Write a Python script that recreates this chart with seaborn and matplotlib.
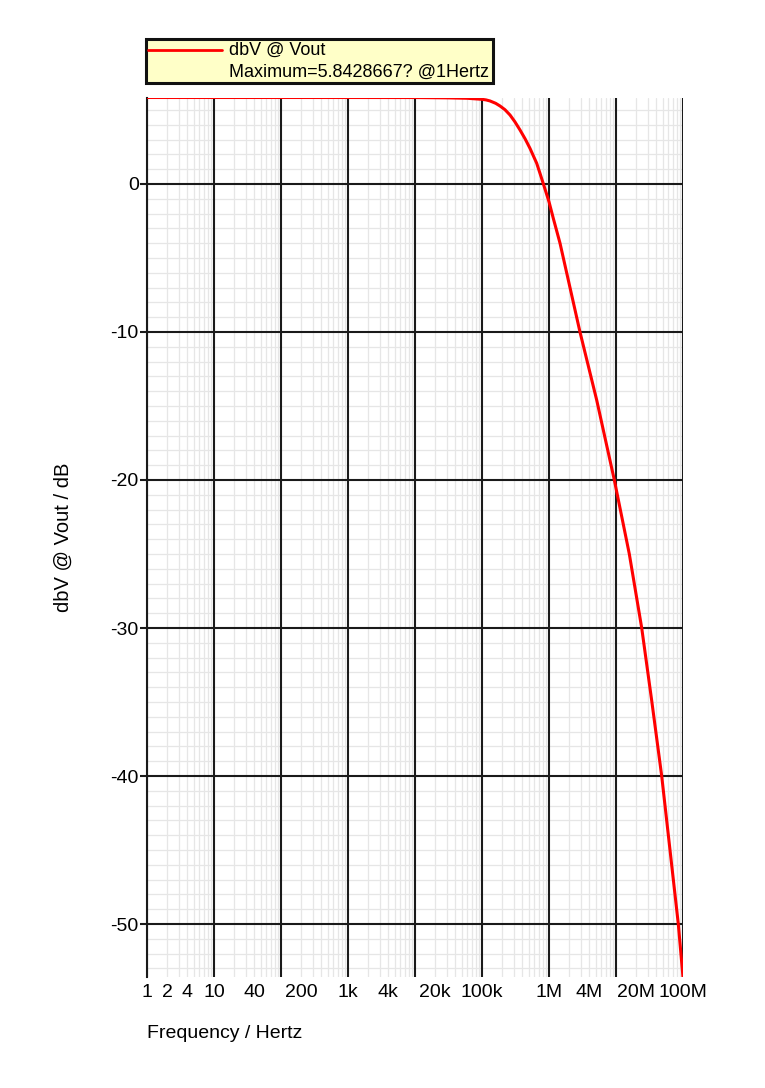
import numpy as np
import pandas as pd
import matplotlib
matplotlib.use('Agg')
import matplotlib.pyplot as plt
from matplotlib.patches import Rectangle
from matplotlib.lines import Line2D
from matplotlib.ticker import FixedLocator, FuncFormatter, MultipleLocator
import seaborn as sns

# values (frequency in Hz, level in dBV)
freq_hz = [1, 10, 100, 1e3, 1e4, 3e4, 6e4, 1e5, 1.15e5, 1.316e5, 1.6e5, 1.857e5,
           2.2e5, 2.62e5, 3.1e5, 3.69e5, 4.4e5, 5.2e5, 6.55e5, 7.3e5, 8.22e5, 1e6,
           1.159e6, 1.46e6, 2.9e6, 5.15e6, 9.44e6, 1.58e7, 2.42e7, 3.41e7, 4.81e7,
           8.51e7, 1e8]
vout_dbv = [5.8428667, 5.8428667, 5.8428, 5.8425, 5.84, 5.82, 5.79, 5.72, 5.68, 5.61,
            5.45, 5.27, 5.02, 4.66, 4.2, 3.65, 3.05, 2.41, 1.40, 0.75, 0.02, -1.2,
            -2.32, -4.0, -10.0, -14.6, -20.0, -25.0, -30.0, -34.9, -40.0, -50.0, -53.6]

xtick_vals = [1, 2, 4, 10, 40, 200, 1e3, 4e3, 2e4, 1e5, 1e6, 4e6, 2e7, 1e8]
xtick_labels = ['1', '2', '4', '10', '40', '200', '1k', '4k', '20k', '100k',
                '1M', '4M', '20M', '100M']

legend_name = 'dbV @ Vout'
legend_note = 'Maximum=5.8428667? @1Hertz'

df = pd.DataFrame({'freq': freq_hz, 'dbv': vout_dbv})

sns.set_style('white')
plt.rcParams['font.family'] = ['Liberation Sans', 'DejaVu Sans']
plt.rcParams['axes.unicode_minus'] = False
plt.rcParams['text.color'] = 'black'
plt.rcParams['axes.labelcolor'] = 'black'
plt.rcParams['xtick.color'] = 'black'
plt.rcParams['ytick.color'] = 'black'

W, H = 765, 1088
fig = plt.figure(figsize=(W / 100, H / 100), dpi=100)
ax = fig.add_axes([147 / W, 1 - 977.3 / H, 536 / W, (977.3 - 97.5) / H])

sns.lineplot(data=df, x='freq', y='dbv', ax=ax, color='#ff0000', linewidth=2.2,
             zorder=5, sort=True)

ax.set_xscale('log')
ax.set_xlim(1, 1e8)
ax.set_ylim(-53.6, 5.8428667)


def tick_fmt(v, pos):
    for t, lab in zip(xtick_vals, xtick_labels):
        if np.isclose(v, t, rtol=1e-6):
            return lab
    return ''


decades = [10.0 ** k for k in range(0, 9)]
minors = [m * d for d in decades[:-1] for m in range(2, 10)]
ax.xaxis.set_major_locator(FixedLocator(decades))
ax.xaxis.set_minor_locator(FixedLocator(minors))
ax.xaxis.set_major_formatter(FuncFormatter(tick_fmt))
ax.xaxis.set_minor_formatter(FuncFormatter(tick_fmt))
ax.yaxis.set_major_locator(MultipleLocator(10))
ax.yaxis.set_minor_locator(MultipleLocator(1))

# light minor grid below, heavy decade / 10 dB lines drawn on top of it
ax.grid(which='minor', color='#e6e6e6', linewidth=0.9)
ax.grid(which='major', visible=False)
ax.set_axisbelow(True)
for d in decades:
    ax.axvline(d, color='#1a1a1a', linewidth=1.5, zorder=2)
for yv in range(-50, 1, 10):
    ax.axhline(yv, color='#1a1a1a', linewidth=1.5, zorder=2)

ax.tick_params(axis='x', which='both', length=0, pad=5, labelsize=14)
ax.tick_params(axis='y', which='major', length=5, width=1.5, color='#1a1a1a',
               pad=1, labelsize=14, direction='out', left=True)
ax.tick_params(axis='y', which='minor', length=0)

for side in ['top', 'right', 'bottom']:
    ax.spines[side].set_visible(False)
ax.spines['left'].set_color('#1a1a1a')
ax.spines['left'].set_linewidth(1.5)

ax.set_xlabel('Frequency / Hertz', fontsize=14, loc='left', labelpad=17)
ax.set_ylabel('dbV @ Vout / dB', fontsize=14.5, labelpad=27)

# legend box drawn in figure pixels
fig.patches.append(Rectangle((146 / W, 1 - 83 / H), (493 - 146) / W, (83 - 39) / H,
                             transform=fig.transFigure, facecolor='#ffffc8',
                             edgecolor='#111111', linewidth=2.2, zorder=10))
fig.lines.append(Line2D([148 / W, 222 / W], [1 - 50 / H, 1 - 50 / H],
                        transform=fig.transFigure, color='#ff0000', linewidth=2.0,
                        zorder=11))
fig.text(229 / W, 1 - 50.5 / H, legend_name, fontsize=13, va='center', ha='left',
         zorder=12)
fig.text(229 / W, 1 - 72.5 / H, legend_note, fontsize=13, va='center', ha='left',
         zorder=12)

fig.savefig('out.png', dpi=100)
